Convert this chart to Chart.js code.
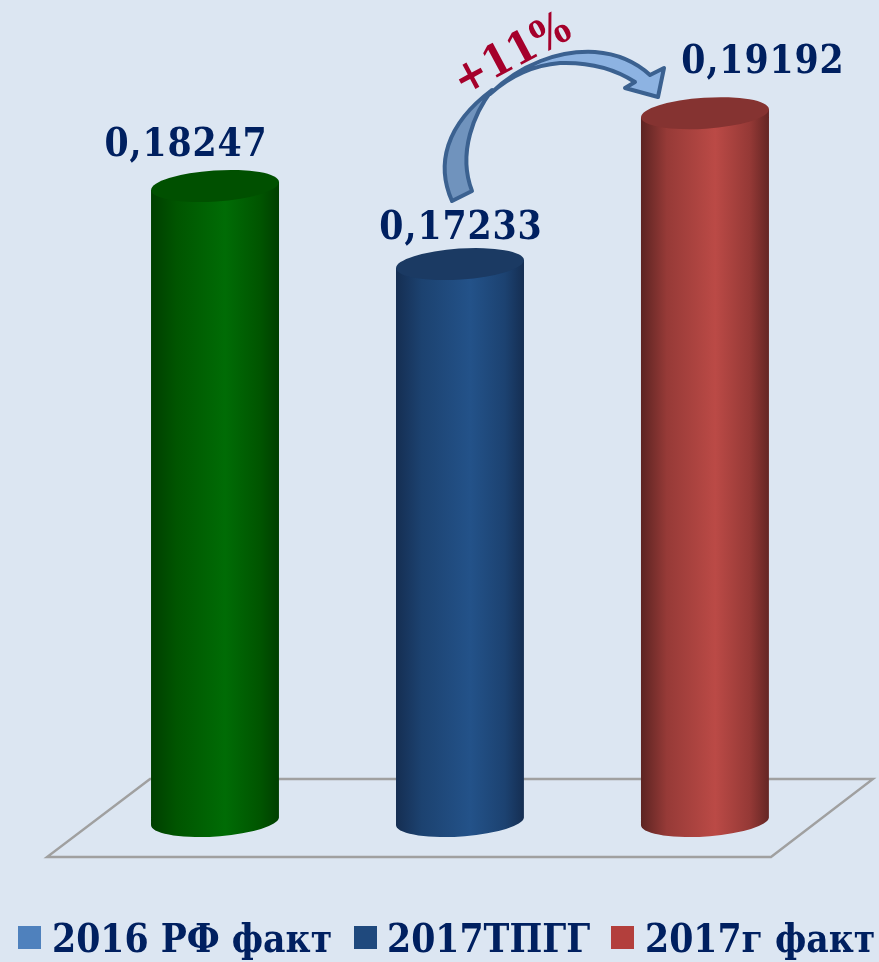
<!DOCTYPE html>
<html lang="ru">
<head>
<meta charset="utf-8">
<title>Chart</title>
<script src="https://cdn.jsdelivr.net/npm/chart.js@4"></script>
<style>
html,body{margin:0;padding:0;background:#dce6f2;}
canvas{display:block;}
</style>
</head>
<body>
<canvas id="c" width="879" height="962"></canvas>
<script>
const categories = [''];
const seriesNames = ['2016 РФ факт', '2017ТПГГ', '2017г факт'];
const values2016 = [0.18247];
const values2017Plan = [0.17233];
const values2017Fact = [0.19192];
const legendColors = ['#4f81bd', '#1f497d', '#b33f3c'];
const annotationText = '+11%';

const FONT = '"DejaVu Serif Condensed", "DejaVu Serif", serif';
const NAVY = '#002060';

const cylinderStyles = [
  {top:'#005000', stops:[[0,'#003f00'],[0.2,'#005500'],[0.58,'#006c05'],[0.85,'#005500'],[1,'#003f00']]},
  {top:'#1b3a63', stops:[[0,'#152e52'],[0.2,'#1c4270'],[0.58,'#235289'],[0.85,'#1c4271'],[1,'#152e52']]},
  {top:'#853331', stops:[[0,'#5c2422'],[0.2,'#963a37'],[0.58,'#bb4a46'],[0.85,'#953936'],[1,'#642624']]}
];
const labelShift = [{dx:-29,dy:30},{dx:1,dy:25},{dx:58,dy:40}];
const legendLayout = [{box:18,text:52},{box:354,text:387},{box:611,text:645}];

const TILT = -3.8 * Math.PI / 180;

function drawCylinder(ctx, el, style){
  const halfW = el.width / 2, a = halfW * 1.0016, b = halfW * 0.242, lean = halfW / 16;
  const x = el.x, top = el.y, base = el.base;
  const grad = ctx.createLinearGradient(x - halfW, 0, x + halfW, 0);
  style.stops.forEach(s => grad.addColorStop(s[0], s[1]));
  ctx.beginPath();
  ctx.moveTo(x - halfW, top + lean);
  ctx.lineTo(x - halfW, base + lean);
  ctx.ellipse(x, base, a, b, TILT, Math.PI - 0.06, 0.06, true);
  ctx.lineTo(x + halfW, top - lean);
  ctx.closePath();
  ctx.fillStyle = grad;
  ctx.fill();
  ctx.beginPath();
  ctx.ellipse(x, top, a, b, TILT, 0, Math.PI * 2);
  ctx.fillStyle = style.top;
  ctx.fill();
}

function drawOverlay(chart){
  const {ctx} = chart;
  ctx.save();
  ctx.font = 'bold 38.6px ' + FONT;
  ctx.letterSpacing = '0.9px';
  ctx.fillStyle = NAVY;
  ctx.textAlign = 'center';
  ctx.textBaseline = 'alphabetic';
  chart.data.datasets.forEach((ds, i) => {
    const el = chart.getDatasetMeta(i).data[0];
    const s = labelShift[i];
    ctx.fillText(ds.data[0].toFixed(5).replace('.', ','), el.x + s.dx, el.y - s.dy);
  });
  ctx.letterSpacing = '0px';

  ctx.lineJoin = 'round';
  ctx.lineWidth = 4;
  ctx.strokeStyle = '#3b6190';
  ctx.beginPath();
  ctx.moveTo(490, 94);
  ctx.bezierCurveTo(520, 64, 560, 50, 595, 52);
  ctx.bezierCurveTo(620, 54, 637, 63, 650, 75);
  ctx.lineTo(664, 68);
  ctx.lineTo(658, 97);
  ctx.lineTo(625, 88);
  ctx.lineTo(635, 82);
  ctx.bezierCurveTo(615, 69, 590, 62, 560, 63);
  ctx.bezierCurveTo(535, 65, 510, 76, 490, 94);
  ctx.closePath();
  ctx.fillStyle = '#8db3e2';
  ctx.fill();
  ctx.stroke();
  ctx.beginPath();
  ctx.moveTo(452, 201);
  ctx.bezierCurveTo(436, 165, 445, 125, 492, 90);
  ctx.bezierCurveTo(475, 112, 457, 152, 472, 191);
  ctx.closePath();
  ctx.fillStyle = '#7093bd';
  ctx.fill();
  ctx.stroke();

  ctx.save();
  ctx.translate(513, 56);
  ctx.rotate(-28 * Math.PI / 180);
  ctx.font = 'bold 44px ' + FONT;
  ctx.fillStyle = '#a5002b';
  ctx.textAlign = 'center';
  ctx.textBaseline = 'middle';
  ctx.fillText(annotationText, 0, 0);
  ctx.restore();

  ctx.font = 'bold 38.6px ' + FONT;
  ctx.textAlign = 'left';
  ctx.textBaseline = 'alphabetic';
  seriesNames.forEach((name, i) => {
    ctx.fillStyle = legendColors[i];
    ctx.fillRect(legendLayout[i].box, 926, 23, 23);
    ctx.fillStyle = NAVY;
    ctx.fillText(name, legendLayout[i].text, 952);
  });
  ctx.restore();
}

const decorPlugin = {
  id: 'decor',
  beforeDraw(chart){
    const {ctx, width, height} = chart;
    ctx.save();
    ctx.fillStyle = '#dce6f2';
    ctx.fillRect(0, 0, width, height);
    ctx.restore();
  },
  beforeDatasetsDraw(chart){
    const {ctx, chartArea} = chart;
    const b = chartArea.bottom;
    const first = chart.getDatasetMeta(0).data[0].x;
    const last = chart.getDatasetMeta(2).data[0].x;
    ctx.save();
    ctx.beginPath();
    ctx.moveTo(first - 168, b + 36);
    ctx.lineTo(last + 66, b + 36);
    ctx.lineTo(last + 168, b - 42);
    ctx.lineTo(first - 65, b - 42);
    ctx.closePath();
    ctx.strokeStyle = '#a0a0a0';
    ctx.lineWidth = 2.4;
    ctx.stroke();
    chart.data.datasets.forEach((ds, i) => {
      drawCylinder(ctx, chart.getDatasetMeta(i).data[0], cylinderStyles[i]);
    });
    ctx.restore();
    drawOverlay(chart);
    return false;
  }
};

new Chart(document.getElementById('c'), {
  type: 'bar',
  data: {
    labels: categories,
    datasets: [
      {label: seriesNames[0], data: values2016, backgroundColor: legendColors[0]},
      {label: seriesNames[1], data: values2017Plan, backgroundColor: legendColors[1]},
      {label: seriesNames[2], data: values2017Fact, backgroundColor: legendColors[2]}
    ]
  },
  options: {
    responsive: false,
    animation: false,
    layout: {padding: {left: 0, right: 0, top: 51, bottom: 0}},
    datasets: {bar: {categoryPercentage: 0.877, barPercentage: 0.5225, base: 0.1}},
    scales: {
      x: {
        grid: {display: false},
        border: {display: false},
        ticks: {display: false},
        afterFit(scale){ scale.height = 141; }
      },
      y: {
        min: 0.1,
        max: 0.2,
        grid: {display: false},
        border: {display: false},
        ticks: {display: false},
        afterFit(scale){ scale.width = 41; }
      }
    },
    plugins: {
      tooltip: {enabled: false},
      legend: {display: false}
    }
  },
  plugins: [decorPlugin]
});
</script>
</body>
</html>
